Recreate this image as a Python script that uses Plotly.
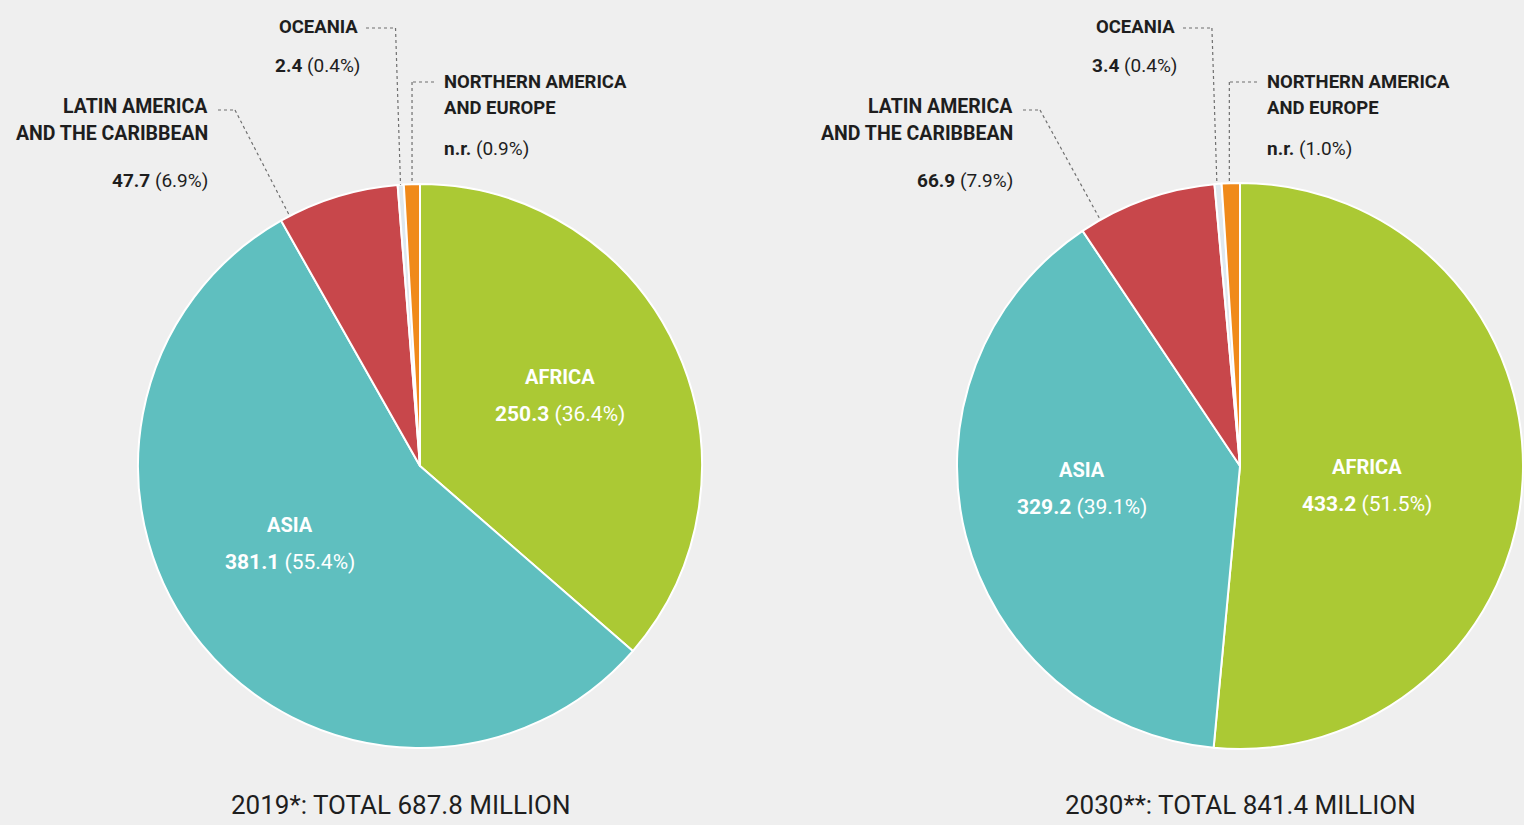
import math
import plotly.graph_objects as go

W, H = 1524, 825

regions = ["AFRICA", "ASIA", "LATIN AMERICA AND THE CARIBBEAN", "OCEANIA", "NORTHERN AMERICA AND EUROPE"]
values_2019 = [250.3, 381.1, 47.7, 2.4, 6.3]
values_2030 = [433.2, 329.2, 66.9, 3.4, 8.7]
pct_2019 = [36.4, 55.4, 6.9, 0.4, 0.9]
pct_2030 = [51.5, 39.1, 7.9, 0.4, 1.0]
value_text_2019 = ["250.3", "381.1", "47.7", "2.4", "n.r."]
value_text_2030 = ["433.2", "329.2", "66.9", "3.4", "n.r."]
titles = ["2019*: TOTAL 687.8 MILLION", "2030**: TOTAL 841.4 MILLION"]
colors = ["#abc934", "#5fbfbf", "#c8474b", "#dfe8ee", "#f08a1a"]

BG = "#efefef"
DARK = "#1e1e1e"
FONT = "Roboto, DejaVu Sans, sans-serif"

def px(x, y):
    return x / W, 1 - y / H

# pie geometry (pixels)
pies = [dict(cx=420, cy=466, r=282), dict(cx=1240, cy=466, r=283)]

fig = go.Figure()
for p, vals in zip(pies, [values_2019, values_2030]):
    x0, _ = px(p["cx"] - p["r"], 0)
    x1, _ = px(p["cx"] + p["r"], 0)
    _, y1 = px(0, p["cy"] - p["r"])
    _, y0 = px(0, p["cy"] + p["r"])
    fig.add_trace(go.Pie(
        labels=regions, values=vals, sort=False, direction="clockwise", rotation=0,
        marker=dict(colors=colors, line=dict(color="white", width=2)),
        textinfo="none", hoverinfo="label+value+percent", showlegend=False,
        domain=dict(x=[x0, min(x1, 1.0)], y=[y0, y1]),
    ))

annotations = []
shapes = []

def add_text(x, y, text, xanchor="center", size=19.5, color=DARK):
    ax, ay = px(x, y)
    annotations.append(dict(x=ax, y=ay, xref="paper", yref="paper", text=text, showarrow=False,
                            xanchor=xanchor, yanchor="middle",
                            font=dict(family=FONT, size=size, color=color)))

def edge_point(p, pcts, idx, frac):
    cum = sum(pcts[:idx]) + frac * pcts[idx]
    th = 2 * math.pi * cum / 100.0
    return p["cx"] + p["r"] * math.sin(th), p["cy"] - p["r"] * math.cos(th)

def dotted(pts):
    for (xa, ya), (xb, yb) in zip(pts[:-1], pts[1:]):
        a = px(xa, ya); b = px(xb, yb)
        shapes.append(dict(type="line", xref="paper", yref="paper", x0=a[0], y0=a[1], x1=b[0], y1=b[1],
                           line=dict(color="#6f6f6f", width=1.2, dash="dot")))

layouts = [
    dict(afr=(560, 377), asia=(290, 525), lat_x=210, oce_x=360, nae_x=442, lat_frac=0.08, title_x=401),
    dict(afr=(1367, 467), asia=(1082, 470), lat_x=1015, oce_x=1177, nae_x=1265, lat_frac=0.15, title_x=1240),
]

for p, L, pcts, vt, title in zip(pies, layouts, [pct_2019, pct_2030],
                                 [value_text_2019, value_text_2030], titles):
    # inside labels
    for idx, key in [(0, "afr"), (1, "asia")]:
        x, y = L[key]
        add_text(x, y, "<b>%s</b>" % regions[idx], color="white", size=20)
        add_text(x, y + 37, "<b>%s</b> (%.1f%%)" % (vt[idx], pcts[idx]), color="white", size=21)
    # Latin America
    lx = L["lat_x"]
    add_text(lx, 107, "<b>LATIN AMERICA</b>", xanchor="right")
    add_text(lx, 133, "<b>AND THE CARIBBEAN</b>", xanchor="right")
    add_text(lx, 181, "<b>%s</b> (%.1f%%)" % (vt[2], pcts[2]), xanchor="right", size=19)
    ex, ey = edge_point(p, pcts, 2, L["lat_frac"])
    dotted([(lx + 8, 110), (lx + 25, 110), (ex, ey)])
    # Oceania
    ox = L["oce_x"]
    add_text(ox, 27, "<b>OCEANIA</b>", xanchor="right", size=18.5)
    add_text(ox + 2, 66, "<b>%s</b> (%.1f%%)" % (vt[3], pcts[3]), xanchor="right", size=19)
    ex, ey = edge_point(p, pcts, 3, 0.5)
    dotted([(ox + 6, 28), (ex - 5, 28), (ex, ey)])
    # Northern America and Europe
    nx = L["nae_x"]
    add_text(nx, 82, "<b>NORTHERN AMERICA</b>", xanchor="left", size=18.5)
    add_text(nx, 108, "<b>AND EUROPE</b>", xanchor="left", size=18.5)
    add_text(nx, 148, "<b>%s</b> (%.1f%%)" % (vt[4], pcts[4]), xanchor="left", size=19)
    ex, ey = edge_point(p, pcts, 4, 0.5)
    dotted([(nx - 8, 82), (ex, 82), (ex, ey)])
    # title
    add_text(L["title_x"], 805, title, size=26)

fig.update_layout(
    width=W, height=H, margin=dict(l=0, r=0, t=0, b=0),
    paper_bgcolor=BG, plot_bgcolor=BG,
    annotations=annotations, shapes=shapes,
)
fig.write_html("out.html", config={"displayModeBar": False},
               post_script="document.body.style.margin='0';document.body.style.background='%s';" % BG)
